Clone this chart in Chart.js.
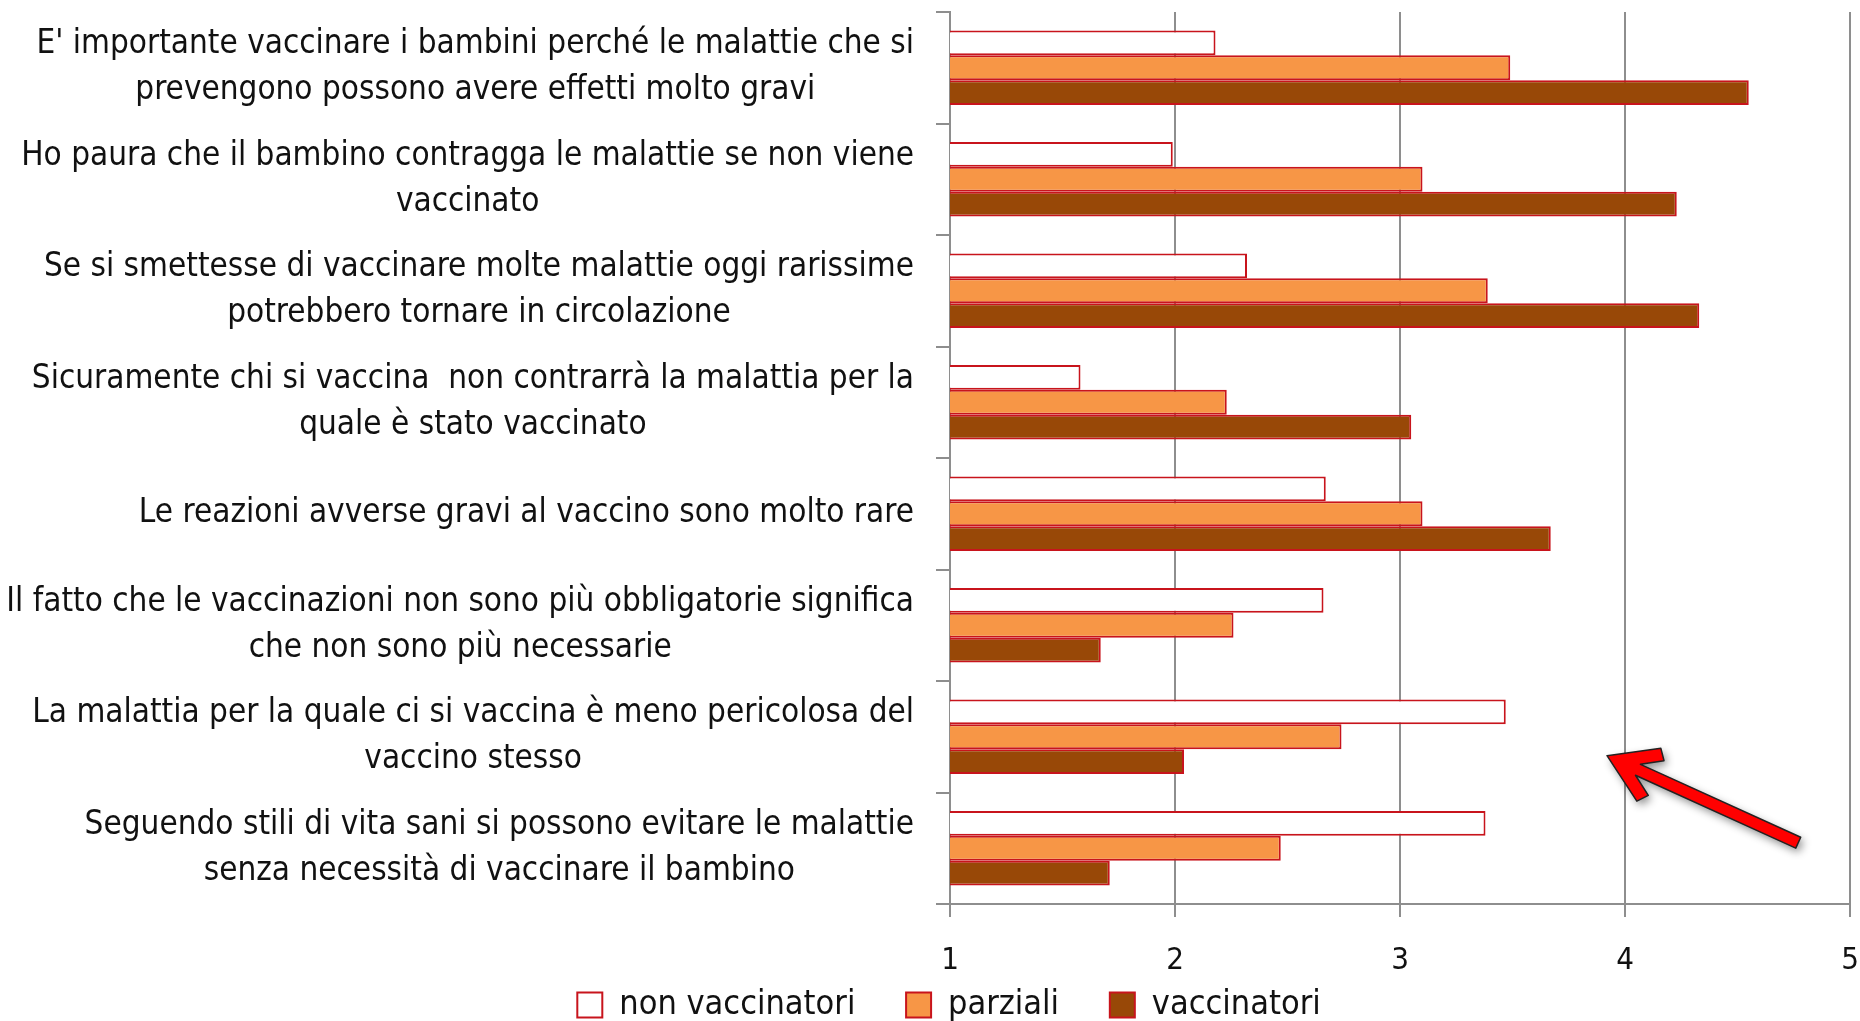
<!DOCTYPE html>
<html>
<head>
<meta charset="utf-8">
<script src="https://cdn.jsdelivr.net/npm/chart.js@4.4.1/dist/chart.umd.min.js"></script>
<style>
    html, body { margin: 0; padding: 0; background: #fff; }
</style>
</head>
<body>
<canvas id="chart" width="1860" height="1021"></canvas>
<script>
// Statements (each entry = lines of the label).
const categories = [
    ["E' importante vaccinare i bambini perché le malattie che si", "prevengono possono avere effetti molto gravi"],
    ["Ho paura che il bambino contragga le malattie se non viene", "vaccinato"],
    ["Se si smettesse di vaccinare molte malattie oggi rarissime", "potrebbero tornare in circolazione"],
    ["Sicuramente chi si vaccina  non contrarrà la malattia per la", "quale è stato vaccinato"],
    ["Le reazioni avverse gravi al vaccino sono molto rare"],
    ["Il fatto che le vaccinazioni non sono più obbligatorie significa", "che non sono più necessarie"],
    ["La malattia per la quale ci si vaccina è meno pericolosa del", "vaccino stesso"],
    ["Seguendo stili di vita sani si possono evitare le malattie", "senza necessità di vaccinare il bambino"]
];

const seriesNames = ['non vaccinatori', 'parziali', 'vaccinatori'];

const nonVaccinatori = [2.18, 1.99, 2.32, 1.58, 2.67, 2.66, 3.47, 3.38];
const parziali       = [3.49, 3.10, 3.39, 2.23, 3.10, 2.26, 2.74, 2.47];
const vaccinatori    = [4.55, 4.23, 4.33, 3.05, 3.67, 1.67, 2.04, 1.71];

const xTicks = [1, 2, 3, 4, 5];

const FONT = "'Liberation Sans Narrow', 'DejaVu Sans Condensed', 'Open Sans', sans-serif";
const AXIS_GREY = '#8e8e8e';
const BAR_BORDER = '#c8141c';

// Category labels: each block right-aligned to the axis, lines centered inside it.
const categoryLabels = {
    id: 'categoryLabels',
    afterDraw(chart) {
        const { ctx, chartArea, scales: { y } } = chart;
        const right = chartArea.left - 36;
        const lineHeight = 46;
        ctx.save();
        ctx.font = '33px ' + FONT;
        ctx.fillStyle = '#111';
        ctx.textAlign = 'center';
        ctx.textBaseline = 'middle';
        categories.forEach((lines, i) => {
            const widest = Math.max(...lines.map(l => ctx.measureText(l).width));
            const cx = right - widest / 2;
            const cy = y.getPixelForValue(i);
            lines.forEach((line, j) => {
                ctx.fillText(line, cx, cy + (j - (lines.length - 1) / 2) * lineHeight);
            });
        });
        ctx.restore();
    }
};

// Red callout arrow, anchored on scale values.
const calloutArrow = {
    id: 'calloutArrow',
    afterDraw(chart) {
        const { ctx, scales: { x, y } } = chart;
        const tip  = { x: x.getPixelForValue(3.92), y: y.getPixelForValue(6.17) };
        const tail = { x: x.getPixelForValue(4.77), y: y.getPixelForValue(6.95) };
        const len = Math.hypot(tail.x - tip.x, tail.y - tip.y);
        const angle = Math.atan2(tail.y - tip.y, tail.x - tip.x);

        ctx.save();
        ctx.translate(tip.x, tip.y);
        ctx.rotate(angle);
        ctx.beginPath();
        ctx.moveTo(0, 0);
        ctx.lineTo(46, -29);
        ctx.lineTo(54, -19);
        ctx.lineTo(34, -6);
        ctx.lineTo(len, -6);
        ctx.lineTo(len, 6);
        ctx.lineTo(34, 6);
        ctx.lineTo(54, 19);
        ctx.lineTo(46, 29);
        ctx.closePath();
        ctx.shadowColor = 'rgba(0, 0, 0, 0.45)';
        ctx.shadowBlur = 8;
        ctx.shadowOffsetX = 3;
        ctx.shadowOffsetY = 4;
        ctx.fillStyle = '#ff0000';
        ctx.fill();
        ctx.shadowColor = 'transparent';
        ctx.lineJoin = 'round';
        ctx.lineWidth = 1.5;
        ctx.strokeStyle = '#222';
        ctx.stroke();
        ctx.restore();
    }
};

// Default legend items, with some extra room after all but the last one.
const legendItems = chart => {
    const items = Chart.defaults.plugins.legend.labels.generateLabels(chart);
    items.forEach((item, i) => {
        if (i < items.length - 1) item.text += '\u2003\u2009';
    });
    return items;
};

new Chart(document.getElementById('chart'), {
    type: 'bar',
    data: {
        labels: categories,
        datasets: [
            { label: seriesNames[0], data: nonVaccinatori, backgroundColor: '#ffffff' },
            { label: seriesNames[1], data: parziali,       backgroundColor: '#f79646' },
            { label: seriesNames[2], data: vaccinatori,    backgroundColor: '#984807' }
        ].map(ds => Object.assign(ds, {
            borderColor: BAR_BORDER,
            borderWidth: 2,
            categoryPercentage: 0.67,
            barPercentage: 1
        }))
    },
    options: {
        indexAxis: 'y',
        responsive: false,
        animation: false,
        layout: { padding: { top: 12, bottom: -11, left: 38, right: 0 } },
        plugins: {
            tooltip: { enabled: false },
            legend: {
                position: 'bottom',
                labels: {
                    color: '#111',
                    font: { family: FONT, size: 34 },
                    boxWidth: 25,
                    boxHeight: 25,
                    padding: 14,
                    generateLabels: legendItems
                }
            }
        },
        scales: {
            x: {
                type: 'linear',
                min: 1,
                max: 5,
                afterBuildTicks: s => { s.ticks = xTicks.map(v => ({ value: v })); },
                afterFit: s => { s.height = 70; s.paddingRight = 10; },
                border: { display: true, color: AXIS_GREY, width: 2 },
                grid: { color: AXIS_GREY, lineWidth: 2, tickLength: 13 },
                ticks: {
                    color: '#111',
                    padding: 25,
                    font: { family: FONT, size: 31 }
                }
            },
            y: {
                type: 'category',
                afterFit: s => { s.width = 912; },
                border: { display: true, color: AXIS_GREY, width: 2 },
                grid: { offset: true, drawOnChartArea: false, color: AXIS_GREY, lineWidth: 2, tickLength: 14 },
                ticks: { display: false }
            }
        }
    },
    plugins: [categoryLabels, calloutArrow]
});
</script>
</body>
</html>
